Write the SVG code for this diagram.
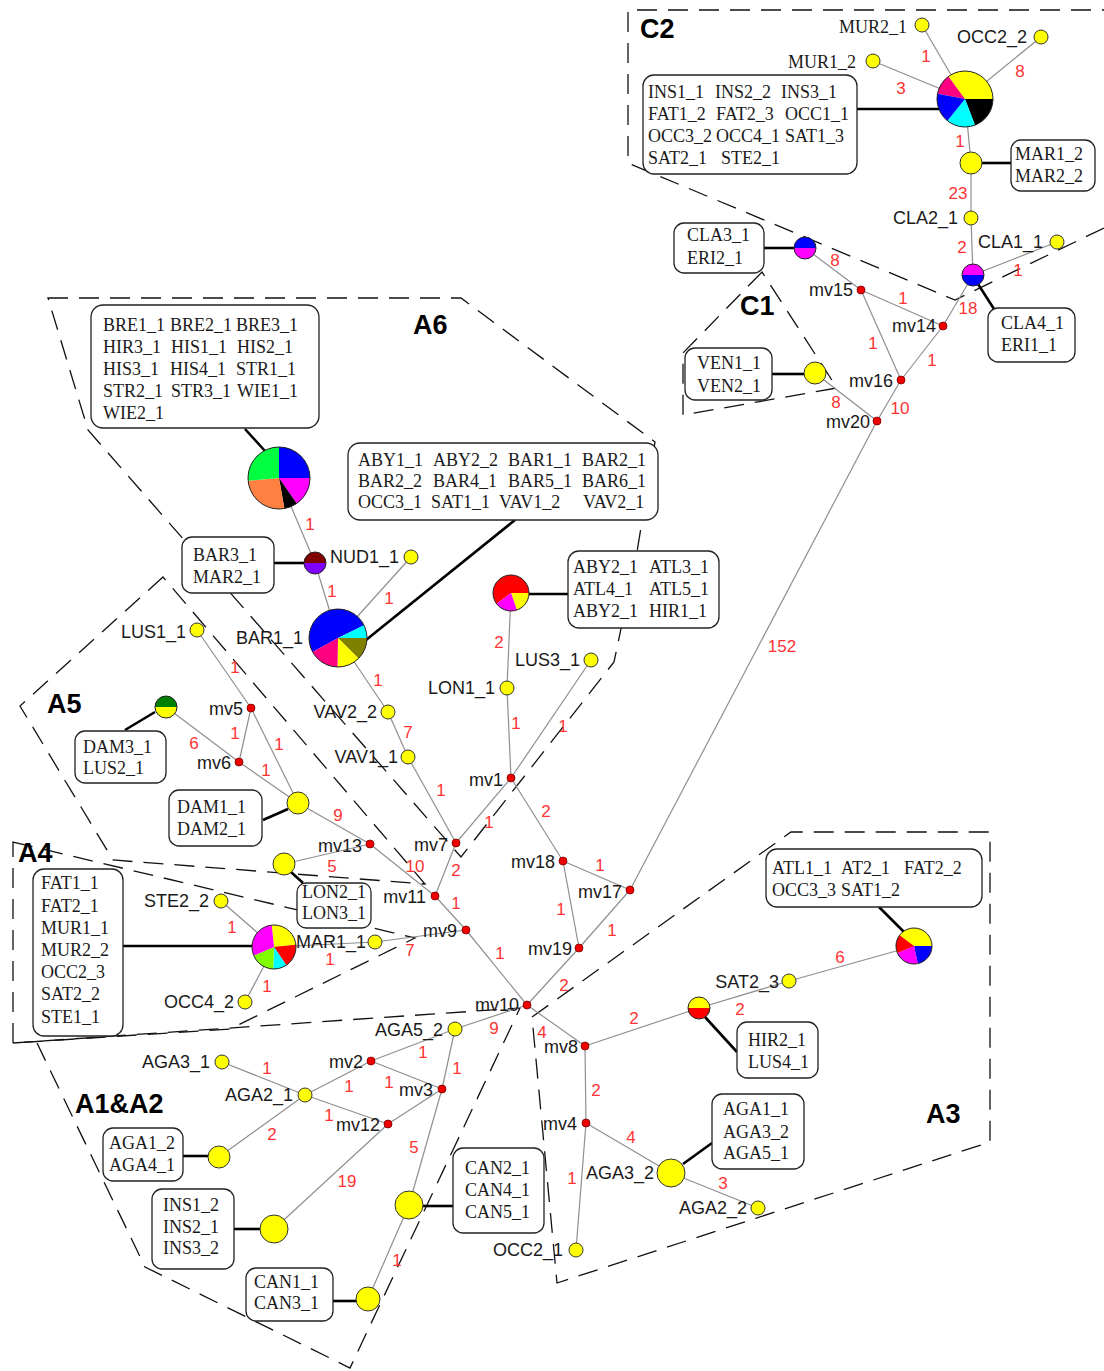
<svg xmlns="http://www.w3.org/2000/svg" width="1104" height="1371" viewBox="0 0 1104 1371">
<style>
.e{stroke:#8f8f8f;stroke-width:1.2;fill:none}
.c{stroke:#000;stroke-width:2.6;fill:none}
.b{fill:#fff;stroke:#222;stroke-width:1.3}
.d{fill:none;stroke:#111;stroke-width:1.3;stroke-dasharray:20 11}
.y{fill:#ff0;stroke:#333;stroke-width:1}
.mv{fill:#e00;stroke:#700;stroke-width:0.8}
.o{fill:none;stroke:#222;stroke-width:1}
.n{font-family:"Liberation Sans",Arial,sans-serif;font-size:18px;fill:#1a1a1a}
.ne{font-family:"Liberation Sans",Arial,sans-serif;font-size:18px;fill:#1a1a1a;text-anchor:end}
.se{font-family:"Liberation Serif","Times New Roman",serif;font-size:18px;fill:#1a1a1a;text-anchor:end}
.t{font-family:"Liberation Serif","Times New Roman",serif;font-size:18px;fill:#1a1a1a}
.l{font-family:"Liberation Sans",Arial,sans-serif;font-size:17px;fill:#f33;text-anchor:middle}
.g{font-family:"Liberation Sans",Arial,sans-serif;font-size:27px;font-weight:bold;fill:#000}
</style>
<rect width="1104" height="1371" fill="#fff"/>

<g id="regions">
<path class="d" d="M1104,228 L955,300 L628,163 L628,10 L1104,10"/>
<path class="d" d="M762,272 L683,353 L683,415 L837,388 Z"/>
<path class="d" d="M48,298 L461,298 L655,442 L637,552 L614,662 L461,857 L88,430 Z"/>
<path class="d" d="M163,577 L20,706 L113,860 L425,884 Z"/>
<path class="d" d="M13,842 L415,938 L230,1029 L13,1043 Z"/>
<path class="d" d="M13,1043 L520,1008 L350,1368 L145,1267 L37,1043"/>
<path class="d" d="M532,1017 L791,832 L990,832 L990,1142 L557,1283 Z"/>
<text class="g" x="640" y="38">C2</text>
<text class="g" x="740" y="315">C1</text>
<text class="g" x="413" y="334">A6</text>
<text class="g" x="47" y="713">A5</text>
<text class="g" x="18" y="862">A4</text>
<text class="g" x="75" y="1113">A1&amp;A2</text>
<text class="g" x="926" y="1123">A3</text>
</g>

<g id="connectors">
<line class="e" x1="965" y1="99" x2="922" y2="25"/>
<line class="e" x1="965" y1="99" x2="1041" y2="37"/>
<line class="e" x1="965" y1="99" x2="873" y2="61"/>
<line class="e" x1="965" y1="99" x2="971" y2="163"/>
<line class="e" x1="971" y1="163" x2="971" y2="218"/>
<line class="e" x1="971" y1="218" x2="973" y2="275"/>
<line class="e" x1="973" y1="275" x2="1057" y2="242"/>
<line class="e" x1="973" y1="275" x2="943" y2="326"/>
<line class="e" x1="943" y1="326" x2="861" y2="290"/>
<line class="e" x1="861" y1="290" x2="805" y2="248"/>
<line class="e" x1="861" y1="290" x2="901" y2="380"/>
<line class="e" x1="943" y1="326" x2="901" y2="380"/>
<line class="e" x1="901" y1="380" x2="877" y2="421"/>
<line class="e" x1="877" y1="421" x2="815" y2="373"/>
<line class="e" x1="877" y1="421" x2="630" y2="890"/>
<line class="e" x1="279" y1="478" x2="315" y2="563"/>
<line class="e" x1="315" y1="563" x2="338" y2="638"/>
<line class="e" x1="338" y1="638" x2="411" y2="557"/>
<line class="e" x1="338" y1="638" x2="388" y2="712"/>
<line class="e" x1="388" y1="712" x2="408" y2="757"/>
<line class="e" x1="408" y1="757" x2="456" y2="843"/>
<line class="e" x1="456" y1="843" x2="511" y2="778"/>
<line class="e" x1="511" y1="778" x2="507" y2="688"/>
<line class="e" x1="507" y1="688" x2="511" y2="593"/>
<line class="e" x1="511" y1="778" x2="591" y2="660"/>
<line class="e" x1="511" y1="778" x2="563" y2="861"/>
<line class="e" x1="563" y1="861" x2="630" y2="890"/>
<line class="e" x1="563" y1="861" x2="579" y2="948"/>
<line class="e" x1="630" y1="890" x2="579" y2="948"/>
<line class="e" x1="579" y1="948" x2="527" y2="1005"/>
<line class="e" x1="456" y1="843" x2="435" y2="896"/>
<line class="e" x1="435" y1="896" x2="370" y2="844"/>
<line class="e" x1="435" y1="896" x2="466" y2="930"/>
<line class="e" x1="466" y1="930" x2="527" y2="1005"/>
<line class="e" x1="466" y1="930" x2="375" y2="942"/>
<line class="e" x1="375" y1="942" x2="274" y2="947"/>
<line class="e" x1="274" y1="947" x2="221" y2="901"/>
<line class="e" x1="274" y1="947" x2="245" y2="1002"/>
<line class="e" x1="370" y1="844" x2="284" y2="864"/>
<line class="e" x1="370" y1="844" x2="298" y2="803"/>
<line class="e" x1="298" y1="803" x2="251" y2="708"/>
<line class="e" x1="298" y1="803" x2="239" y2="762"/>
<line class="e" x1="239" y1="762" x2="251" y2="708"/>
<line class="e" x1="239" y1="762" x2="166" y2="707"/>
<line class="e" x1="251" y1="708" x2="197" y2="630"/>
<line class="e" x1="527" y1="1005" x2="455" y2="1029"/>
<line class="e" x1="527" y1="1005" x2="585" y2="1046"/>
<line class="e" x1="585" y1="1046" x2="699" y2="1008"/>
<line class="e" x1="699" y1="1008" x2="789" y2="981"/>
<line class="e" x1="789" y1="981" x2="914" y2="946"/>
<line class="e" x1="585" y1="1046" x2="586" y2="1123"/>
<line class="e" x1="586" y1="1123" x2="671" y2="1173"/>
<line class="e" x1="586" y1="1123" x2="576" y2="1250"/>
<line class="e" x1="671" y1="1173" x2="758" y2="1208"/>
<line class="e" x1="455" y1="1029" x2="371" y2="1061"/>
<line class="e" x1="455" y1="1029" x2="442" y2="1089"/>
<line class="e" x1="442" y1="1089" x2="409" y2="1205"/>
<line class="e" x1="371" y1="1061" x2="442" y2="1089"/>
<line class="e" x1="371" y1="1061" x2="305" y2="1095"/>
<line class="e" x1="222" y1="1062" x2="305" y2="1095"/>
<line class="e" x1="305" y1="1095" x2="388" y2="1124"/>
<line class="e" x1="388" y1="1124" x2="442" y2="1089"/>
<line class="e" x1="388" y1="1124" x2="274" y2="1229"/>
<line class="e" x1="305" y1="1095" x2="219" y2="1157"/>
<line class="e" x1="409" y1="1205" x2="368" y2="1299"/>

<line class="c" x1="857" y1="109" x2="939" y2="109"/>
<line class="c" x1="982" y1="163" x2="1011" y2="163"/>
<line class="c" x1="764" y1="248" x2="794" y2="248"/>
<line class="c" x1="978" y1="284" x2="994" y2="309"/>
<line class="c" x1="772" y1="374" x2="804" y2="374"/>
<line class="c" x1="245" y1="429" x2="265" y2="451"/>
<line class="c" x1="515" y1="520" x2="366" y2="640"/>
<line class="c" x1="274" y1="563" x2="304" y2="563"/>
<line class="c" x1="529" y1="594" x2="568" y2="594"/>
<line class="c" x1="125" y1="730" x2="155" y2="712"/>
<line class="c" x1="263" y1="820" x2="288" y2="809"/>
<line class="c" x1="123" y1="946" x2="252" y2="946"/>
<line class="c" x1="291" y1="872" x2="303" y2="883"/>
<line class="c" x1="879" y1="907" x2="904" y2="932"/>
<line class="c" x1="705" y1="1017" x2="737" y2="1052"/>
<line class="c" x1="712" y1="1143" x2="683" y2="1164"/>
<line class="c" x1="183" y1="1156" x2="208" y2="1156"/>
<line class="c" x1="234" y1="1229" x2="260" y2="1229"/>
<line class="c" x1="423" y1="1206" x2="453" y2="1206"/>
<line class="c" x1="333" y1="1301" x2="357" y2="1301"/>

<text class="l" x="926" y="62">1</text>
<text class="l" x="901" y="94">3</text>
<text class="l" x="1020" y="77">8</text>
<text class="l" x="960" y="147">1</text>
<text class="l" x="958" y="199">23</text>
<text class="l" x="962" y="253">2</text>
<text class="l" x="1018" y="276">1</text>
<text class="l" x="968" y="314">18</text>
<text class="l" x="835" y="266">8</text>
<text class="l" x="903" y="304">1</text>
<text class="l" x="873" y="349">1</text>
<text class="l" x="932" y="366">1</text>
<text class="l" x="900" y="414">10</text>
<text class="l" x="836" y="408">8</text>
<text class="l" x="782" y="652">152</text>
<text class="l" x="310" y="530">1</text>
<text class="l" x="332" y="597">1</text>
<text class="l" x="389" y="604">1</text>
<text class="l" x="378" y="686">1</text>
<text class="l" x="408" y="738">7</text>
<text class="l" x="499" y="648">2</text>
<text class="l" x="516" y="729">1</text>
<text class="l" x="563" y="732">1</text>
<text class="l" x="235" y="673">1</text>
<text class="l" x="235" y="739">1</text>
<text class="l" x="194" y="749">6</text>
<text class="l" x="279" y="750">1</text>
<text class="l" x="266" y="776">1</text>
<text class="l" x="338" y="821">9</text>
<text class="l" x="441" y="796">1</text>
<text class="l" x="489" y="828">1</text>
<text class="l" x="546" y="817">2</text>
<text class="l" x="456" y="876">2</text>
<text class="l" x="415" y="872">10</text>
<text class="l" x="332" y="872">5</text>
<text class="l" x="600" y="871">1</text>
<text class="l" x="561" y="915">1</text>
<text class="l" x="612" y="936">1</text>
<text class="l" x="456" y="909">1</text>
<text class="l" x="500" y="959">1</text>
<text class="l" x="410" y="956">7</text>
<text class="l" x="330" y="965">1</text>
<text class="l" x="232" y="933">1</text>
<text class="l" x="267" y="992">1</text>
<text class="l" x="564" y="991">2</text>
<text class="l" x="494" y="1034">9</text>
<text class="l" x="542" y="1038">4</text>
<text class="l" x="634" y="1024">2</text>
<text class="l" x="740" y="1015">2</text>
<text class="l" x="840" y="963">6</text>
<text class="l" x="596" y="1096">2</text>
<text class="l" x="631" y="1143">4</text>
<text class="l" x="572" y="1184">1</text>
<text class="l" x="723" y="1189">3</text>
<text class="l" x="267" y="1074">1</text>
<text class="l" x="423" y="1058">1</text>
<text class="l" x="349" y="1092">1</text>
<text class="l" x="389" y="1088">1</text>
<text class="l" x="457" y="1074">1</text>
<text class="l" x="329" y="1121">1</text>
<text class="l" x="272" y="1140">2</text>
<text class="l" x="414" y="1153">5</text>
<text class="l" x="347" y="1187">19</text>
<text class="l" x="397" y="1266">1</text>
</g>

<g id="hap-C2main">
<path fill="#ff0080" d="M965,99 L937.51,93.66 A28,28 0 0 1 948.54,76.35 Z"/>
<path fill="#ff0" d="M965,99 L948.54,76.35 A28,28 0 0 1 993,99 Z"/>
<path fill="#000" d="M965,99 L993,99 A28,28 0 0 1 975.03,125.14 Z"/>
<path fill="#0ff" d="M965,99 L975.03,125.14 A28,28 0 0 1 947.38,120.76 Z"/>
<path fill="#00f" d="M965,99 L947.38,120.76 A28,28 0 0 1 937.51,93.66 Z"/>
<circle class="o" cx="965" cy="99" r="28"/>
<rect class="b" x="643" y="75" width="214" height="99" rx="11"/>
<text class="t" y="98"><tspan x="648">INS1_1</tspan><tspan x="715">INS2_2</tspan><tspan x="781">INS3_1</tspan></text>
<text class="t" y="120"><tspan x="648">FAT1_2</tspan><tspan x="716">FAT2_3</tspan><tspan x="785">OCC1_1</tspan></text>
<text class="t" y="142"><tspan x="648">OCC3_2</tspan><tspan x="716">OCC4_1</tspan><tspan x="785">SAT1_3</tspan></text>
<text class="t" y="164"><tspan x="648">SAT2_1</tspan><tspan x="721">STE2_1</tspan></text>
</g>
<g id="hap-MUR2_1"><circle class="y" cx="922" cy="25" r="7"/><text class="se" x="907" y="33">MUR2_1</text></g>
<g id="hap-OCC2_2"><circle class="y" cx="1041" cy="37" r="7"/><text class="n" x="957" y="43">OCC2_2</text></g>
<g id="hap-MUR1_2"><circle class="y" cx="873" cy="61" r="7"/><text class="se" x="856" y="68">MUR1_2</text></g>
<g id="hap-MAR"><circle class="y" cx="971" cy="163" r="11"/>
<rect class="b" x="1011" y="140" width="84" height="51" rx="10"/>
<text class="t" x="1015" y="160">MAR1_2</text><text class="t" x="1015" y="182">MAR2_2</text></g>
<g id="hap-CLA2_1"><circle class="y" cx="971" cy="218" r="7"/><text class="ne" x="958" y="224">CLA2_1</text></g>
<g id="hap-CLA1_1"><circle class="y" cx="1057" cy="242" r="7"/><text class="n" x="978" y="248">CLA1_1</text></g>
<g id="hap-CLA4">
<path fill="#f0f" d="M962,275 A11,11 0 0 1 984,275 Z"/><path fill="#00f" d="M984,275 A11,11 0 0 1 962,275 Z"/>
<circle class="o" cx="973" cy="275" r="11"/>
<rect class="b" x="988" y="308" width="87" height="54" rx="10"/>
<text class="t" x="1001" y="329">CLA4_1</text><text class="t" x="1001" y="351">ERI1_1</text></g>
<g id="hap-CLA3">
<path fill="#00f" d="M794,248 A11,11 0 0 1 816,248 Z"/><path fill="#f0f" d="M816,248 A11,11 0 0 1 794,248 Z"/>
<circle class="o" cx="805" cy="248" r="11"/>
<rect class="b" x="674" y="223" width="90" height="50" rx="10"/>
<text class="t" x="687" y="241">CLA3_1</text><text class="t" x="687" y="264">ERI2_1</text></g>
<g id="hap-VEN"><circle class="y" cx="815" cy="373" r="11"/>
<rect class="b" x="685" y="348" width="87" height="52" rx="10"/>
<text class="t" x="697" y="369">VEN1_1</text><text class="t" x="697" y="392">VEN2_1</text></g>

<g id="hap-BRE">
<path fill="#00f" d="M279,478 L279,447 A31,31 0 0 1 310,478 Z"/>
<path fill="#f0f" d="M279,478 L310,478 A31,31 0 0 1 296.78,503.39 Z"/>
<path fill="#000" d="M279,478 L296.78,503.39 A31,31 0 0 1 284.38,508.53 Z"/>
<path fill="#ff8040" d="M279,478 L284.38,508.53 A31,31 0 0 1 248.12,480.70 Z"/>
<path fill="#00ff40" d="M279,478 L248.12,480.70 A31,31 0 0 1 279,447 Z"/>
<circle class="o" cx="279" cy="478" r="31"/>
<rect class="b" x="91" y="305" width="228" height="123" rx="12"/>
<text class="t" y="331"><tspan x="103">BRE1_1</tspan><tspan x="170">BRE2_1</tspan><tspan x="236">BRE3_1</tspan></text>
<text class="t" y="353"><tspan x="103">HIR3_1</tspan><tspan x="171">HIS1_1</tspan><tspan x="237">HIS2_1</tspan></text>
<text class="t" y="375"><tspan x="103">HIS3_1</tspan><tspan x="170">HIS4_1</tspan><tspan x="236">STR1_1</tspan></text>
<text class="t" y="397"><tspan x="103">STR2_1</tspan><tspan x="171">STR3_1</tspan><tspan x="237">WIE1_1</tspan></text>
<text class="t" x="103" y="419">WIE2_1</text>
</g>
<g id="hap-BAR3">
<path fill="#800000" d="M304,563 A11,11 0 0 1 326,563 Z"/><path fill="#8000ff" d="M326,563 A11,11 0 0 1 304,563 Z"/>
<circle class="o" cx="315" cy="563" r="11"/>
<rect class="b" x="182" y="537" width="92" height="56" rx="10"/>
<text class="t" x="193" y="561">BAR3_1</text><text class="t" x="193" y="583">MAR2_1</text></g>
<g id="hap-NUD1_1"><circle class="y" cx="411" cy="557" r="7"/><text class="n" x="330" y="563">NUD1_1</text></g>
<g id="hap-BAR1">
<path fill="#00f" d="M338,638 L312.64,652.06 A29,29 0 1 1 364.07,625.29 Z"/>
<path fill="#0ff" d="M338,638 L364.07,625.29 A29,29 0 0 1 367,638 Z"/>
<path fill="#808000" d="M338,638 L367,638 A29,29 0 0 1 358.51,658.51 Z"/>
<path fill="#ff0" d="M338,638 L358.51,658.51 A29,29 0 0 1 337.49,666.99 Z"/>
<path fill="#ff0080" d="M338,638 L337.49,666.99 A29,29 0 0 1 312.64,652.06 Z"/>
<circle class="o" cx="338" cy="638" r="29"/>
<text class="ne" x="303" y="644">BAR1_1</text>
<rect class="b" x="348" y="443" width="310" height="77" rx="12"/>
<text class="t" y="466"><tspan x="358">ABY1_1</tspan><tspan x="433">ABY2_2</tspan><tspan x="508">BAR1_1</tspan><tspan x="582">BAR2_1</tspan></text>
<text class="t" y="487"><tspan x="358">BAR2_2</tspan><tspan x="433">BAR4_1</tspan><tspan x="508">BAR5_1</tspan><tspan x="582">BAR6_1</tspan></text>
<text class="t" y="508"><tspan x="358">OCC3_1</tspan><tspan x="431">SAT1_1</tspan><tspan x="499">VAV1_2</tspan><tspan x="583">VAV2_1</tspan></text>
</g>
<g id="hap-ATL">
<path fill="#f00" d="M511,593 L496.62,603.83 A18,18 0 1 1 529,593 Z"/>
<path fill="#ff0" d="M511,593 L529,593 A18,18 0 0 1 516.86,610.02 Z"/>
<path fill="#f0f" d="M511,593 L516.86,610.02 A18,18 0 0 1 496.62,603.83 Z"/>
<circle class="o" cx="511" cy="593" r="18"/>
<rect class="b" x="568" y="551" width="151" height="77" rx="11"/>
<text class="t" y="573"><tspan x="573">ABY2_1</tspan><tspan x="649">ATL3_1</tspan></text>
<text class="t" y="595"><tspan x="573">ATL4_1</tspan><tspan x="649">ATL5_1</tspan></text>
<text class="t" y="617"><tspan x="573">ABY2_1</tspan><tspan x="649">HIR1_1</tspan></text>
</g>
<g id="hap-LUS3_1"><circle class="y" cx="591" cy="660" r="7"/><text class="ne" x="580" y="666">LUS3_1</text></g>
<g id="hap-LON1_1"><circle class="y" cx="507" cy="688" r="7"/><text class="ne" x="495" y="694">LON1_1</text></g>
<g id="hap-VAV2_2"><circle class="y" cx="388" cy="712" r="7"/><text class="ne" x="377" y="718">VAV2_2</text></g>
<g id="hap-VAV1_1"><circle class="y" cx="408" cy="757" r="7"/><text class="ne" x="398" y="763">VAV1_1</text></g>
<g id="hap-LUS1_1"><circle class="y" cx="197" cy="630" r="7"/><text class="ne" x="186" y="638">LUS1_1</text></g>
<g id="hap-DAM3">
<path fill="#008000" d="M155,707 A11,11 0 0 1 177,707 Z"/><path fill="#ff0" d="M177,707 A11,11 0 0 1 155,707 Z"/>
<circle class="o" cx="166" cy="707" r="11"/>
<rect class="b" x="75" y="731" width="91" height="52" rx="10"/>
<text class="t" x="83" y="753">DAM3_1</text><text class="t" x="83" y="774">LUS2_1</text></g>
<g id="hap-DAM1"><circle class="y" cx="298" cy="803" r="11"/>
<rect class="b" x="169" y="790" width="93" height="56" rx="10"/>
<text class="t" x="177" y="813">DAM1_1</text><text class="t" x="177" y="835">DAM2_1</text></g>
<g id="hap-LON"><circle class="y" cx="284" cy="864" r="11"/>
<rect class="b" x="297" y="883" width="74" height="45" rx="9"/>
<text class="t" x="302" y="898">LON2_1</text><text class="t" x="302" y="919">LON3_1</text></g>
<g id="hap-A4">
<path fill="#ff0" d="M274,947 L271.70,925.12 A22,22 0 0 1 295.88,944.70 Z"/>
<path fill="#f00" d="M274,947 L295.88,944.70 A22,22 0 0 1 286.30,965.24 Z"/>
<path fill="#0ff" d="M274,947 L286.30,965.24 A22,22 0 0 1 273.23,968.99 Z"/>
<path fill="#80ff00" d="M274,947 L273.23,968.99 A22,22 0 0 1 253.75,955.60 Z"/>
<path fill="#f0f" d="M274,947 L253.75,955.60 A22,22 0 0 1 271.70,925.12 Z"/>
<circle class="o" cx="274" cy="947" r="22"/>
<rect class="b" x="33" y="869" width="90" height="167" rx="11"/>
<text class="t" x="41" y="889">FAT1_1</text><text class="t" x="41" y="912">FAT2_1</text>
<text class="t" x="41" y="934">MUR1_1</text><text class="t" x="41" y="956">MUR2_2</text>
<text class="t" x="41" y="978">OCC2_3</text><text class="t" x="41" y="1000">SAT2_2</text>
<text class="t" x="41" y="1023">STE1_1</text>
</g>
<g id="hap-STE2_2"><circle class="y" cx="221" cy="901" r="7"/><text class="ne" x="209" y="907">STE2_2</text></g>
<g id="hap-MAR1_1"><circle class="y" cx="375" cy="942" r="7"/><text class="ne" x="366" y="948">MAR1_1</text></g>
<g id="hap-OCC4_2"><circle class="y" cx="245" cy="1002" r="7"/><text class="ne" x="234" y="1008">OCC4_2</text></g>
<g id="hap-AGA5_2"><circle class="y" cx="455" cy="1029" r="7"/><text class="ne" x="443" y="1036">AGA5_2</text></g>
<g id="hap-SAT2_3"><circle class="y" cx="789" cy="981" r="7"/><text class="ne" x="779" y="988">SAT2_3</text></g>
<g id="hap-ATL1">
<path fill="#ff0" d="M914,946 L899.62,935.17 A18,18 0 0 1 932,946 Z"/>
<path fill="#00f" d="M914,946 L932,946 A18,18 0 0 1 917.74,963.61 Z"/>
<path fill="#f0f" d="M914,946 L917.74,963.61 A18,18 0 0 1 897.43,953.03 Z"/>
<path fill="#f00" d="M914,946 L897.43,953.03 A18,18 0 0 1 899.62,935.17 Z"/>
<circle class="o" cx="914" cy="946" r="18"/>
<rect class="b" x="766" y="849" width="216" height="58" rx="11"/>
<text class="t" y="874"><tspan x="772">ATL1_1</tspan><tspan x="841">AT2_1</tspan><tspan x="904">FAT2_2</tspan></text>
<text class="t" y="896"><tspan x="772">OCC3_3</tspan><tspan x="841">SAT1_2</tspan></text>
</g>
<g id="hap-HIR2">
<path fill="#ff0" d="M688,1008 A11,11 0 0 1 710,1008 Z"/><path fill="#f00" d="M710,1008 A11,11 0 0 1 688,1008 Z"/>
<circle class="o" cx="699" cy="1008" r="11"/>
<rect class="b" x="737" y="1022" width="81" height="56" rx="10"/>
<text class="t" x="748" y="1046">HIR2_1</text><text class="t" x="748" y="1068">LUS4_1</text></g>
<g id="hap-AGA3_2"><circle class="y" cx="671" cy="1173" r="14"/><text class="ne" x="654" y="1179">AGA3_2</text>
<rect class="b" x="712" y="1094" width="92" height="75" rx="10"/>
<text class="t" x="723" y="1115">AGA1_1</text><text class="t" x="723" y="1138">AGA3_2</text><text class="t" x="723" y="1159">AGA5_1</text></g>
<g id="hap-AGA2_2"><circle class="y" cx="758" cy="1208" r="7"/><text class="ne" x="747" y="1214">AGA2_2</text></g>
<g id="hap-OCC2_1"><circle class="y" cx="576" cy="1250" r="7"/><text class="ne" x="563" y="1256">OCC2_1</text></g>
<g id="hap-AGA3_1"><circle class="y" cx="222" cy="1062" r="7"/><text class="ne" x="210" y="1068">AGA3_1</text></g>
<g id="hap-AGA2_1"><circle class="y" cx="305" cy="1095" r="7"/><text class="ne" x="293" y="1101">AGA2_1</text></g>
<g id="hap-AGA1"><circle class="y" cx="219" cy="1157" r="11"/>
<rect class="b" x="103" y="1128" width="80" height="53" rx="10"/>
<text class="t" x="109" y="1149">AGA1_2</text><text class="t" x="109" y="1171">AGA4_1</text></g>
<g id="hap-INS"><circle class="y" cx="274" cy="1229" r="14"/>
<rect class="b" x="152" y="1189" width="82" height="80" rx="10"/>
<text class="t" x="163" y="1211">INS1_2</text><text class="t" x="163" y="1233">INS2_1</text><text class="t" x="163" y="1254">INS3_2</text></g>
<g id="hap-CAN2"><circle class="y" cx="409" cy="1205" r="14"/>
<rect class="b" x="453" y="1148" width="91" height="85" rx="10"/>
<text class="t" x="465" y="1174">CAN2_1</text><text class="t" x="465" y="1196">CAN4_1</text><text class="t" x="465" y="1218">CAN5_1</text></g>
<g id="hap-CAN1"><circle class="y" cx="368" cy="1299" r="12"/>
<rect class="b" x="246" y="1268" width="87" height="53" rx="10"/>
<text class="t" x="254" y="1288">CAN1_1</text><text class="t" x="254" y="1309">CAN3_1</text></g>

<g id="mv-nodes">
<g id="mv15"><circle class="mv" cx="861" cy="290" r="4"/><text class="ne" x="853" y="296">mv15</text></g>
<g id="mv14"><circle class="mv" cx="943" cy="326" r="4"/><text class="ne" x="936" y="332">mv14</text></g>
<g id="mv16"><circle class="mv" cx="901" cy="380" r="4"/><text class="ne" x="893" y="387">mv16</text></g>
<g id="mv20"><circle class="mv" cx="877" cy="421" r="4"/><text class="ne" x="870" y="428">mv20</text></g>
<g id="mv5"><circle class="mv" cx="251" cy="708" r="4"/><text class="ne" x="243" y="715">mv5</text></g>
<g id="mv6"><circle class="mv" cx="239" cy="762" r="4"/><text class="ne" x="231" y="769">mv6</text></g>
<g id="mv13"><circle class="mv" cx="370" cy="844" r="4"/><text class="ne" x="362" y="852">mv13</text></g>
<g id="mv7"><circle class="mv" cx="456" cy="843" r="4"/><text class="ne" x="448" y="851">mv7</text></g>
<g id="mv1"><circle class="mv" cx="511" cy="778" r="4"/><text class="ne" x="503" y="786">mv1</text></g>
<g id="mv18"><circle class="mv" cx="563" cy="861" r="4"/><text class="ne" x="555" y="868">mv18</text></g>
<g id="mv17"><circle class="mv" cx="630" cy="890" r="4"/><text class="ne" x="622" y="898">mv17</text></g>
<g id="mv11"><circle class="mv" cx="435" cy="896" r="4"/><text class="ne" x="426" y="903">mv11</text></g>
<g id="mv9"><circle class="mv" cx="466" cy="930" r="4"/><text class="ne" x="457" y="937">mv9</text></g>
<g id="mv19"><circle class="mv" cx="579" cy="948" r="4"/><text class="ne" x="572" y="955">mv19</text></g>
<g id="mv10"><circle class="mv" cx="527" cy="1005" r="4"/><text class="ne" x="519" y="1011">mv10</text></g>
<g id="mv8"><circle class="mv" cx="585" cy="1046" r="4"/><text class="ne" x="578" y="1053">mv8</text></g>
<g id="mv4"><circle class="mv" cx="586" cy="1123" r="4"/><text class="ne" x="577" y="1130">mv4</text></g>
<g id="mv2"><circle class="mv" cx="371" cy="1061" r="4"/><text class="ne" x="363" y="1068">mv2</text></g>
<g id="mv3"><circle class="mv" cx="442" cy="1089" r="4"/><text class="ne" x="433" y="1096">mv3</text></g>
<g id="mv12"><circle class="mv" cx="388" cy="1124" r="4"/><text class="ne" x="380" y="1131">mv12</text></g>
</g>
</svg>
